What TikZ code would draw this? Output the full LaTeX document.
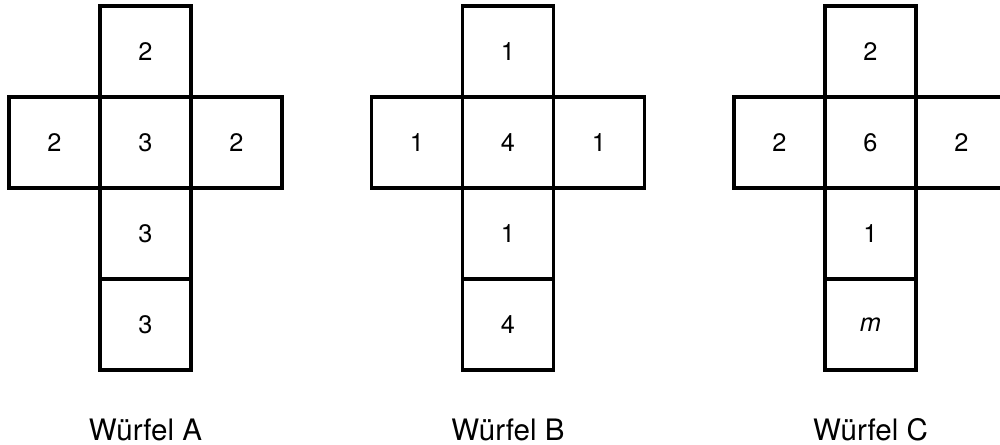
\documentclass[tikz,border=0pt]{standalone}
\usepackage{fontspec}
\setmainfont{TeX Gyre Heros}
\begin{document}
\begin{tikzpicture}[x=0.025cm,y=-0.025cm,
  face/.style={draw,line width=2.2pt,minimum size=2.275cm,inner sep=0pt,font=\fontsize{18}{21}\selectfont},
  caption/.style={anchor=base,font=\fontsize{21}{25}\selectfont}]
\useasboundingbox (0,0) rectangle (1000,445);
\clip (0,0) rectangle (1000,445);
% Wuerfel A
\node[face] (a1) at (145.5,51.5) {2};
\node[face] (a2) at (54.5,142.5) {2};
\node[face] (a3) at (145.5,142.5) {3};
\node[face] (a4) at (236.5,142.5) {2};
\node[face] (a5) at (145.5,233.5) {3};
\node[face] (a6) at (145.5,324.5) {3};
\node[caption] (la) at (145.5,440) {Würfel A};
% Wuerfel B
\node[face] (b1) at (508,51.5) {1};
\node[face] (b2) at (417,142.5) {1};
\node[face] (b3) at (508,142.5) {4};
\node[face] (b4) at (599,142.5) {1};
\node[face] (b5) at (508,233.5) {1};
\node[face] (b6) at (508,324.5) {4};
\node[caption] (lb) at (508,440) {Würfel B};
% Wuerfel C
\node[face] (c1) at (870.5,51.5) {2};
\node[face] (c2) at (779.5,142.5) {2};
\node[face] (c3) at (870.5,142.5) {6};
\node[face] (c4) at (961.5,142.5) {2};
\node[face] (c5) at (870.5,233.5) {1};
\node[face] (c6) at (870.5,324.5) {\textit{m}};
\node[caption] (lc) at (870.5,440) {Würfel C};
\end{tikzpicture}
\end{document}
